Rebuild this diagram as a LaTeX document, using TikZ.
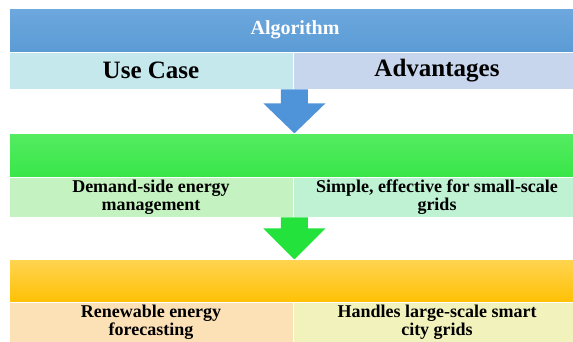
\documentclass[tikz,border=0pt]{standalone}
\usepackage{fontspec}
\setmainfont{Liberation Serif}
\definecolor{hdrtop}{HTML}{6DA8DE}
\definecolor{hdrbot}{HTML}{5B9BD5}
\definecolor{usecase}{HTML}{C4E8EC}
\definecolor{advant}{HTML}{C7D6EC}
\definecolor{arrblue}{HTML}{4F93D8}
\definecolor{grntop}{HTML}{55EC62}
\definecolor{grnbot}{HTML}{38E648}
\definecolor{demand}{HTML}{C4F3C1}
\definecolor{simple}{HTML}{BFF1D3}
\definecolor{arrgreen}{HTML}{22E23B}
\definecolor{orgtop}{HTML}{FFD451}
\definecolor{orgbot}{HTML}{FFC105}
\definecolor{renew}{HTML}{FCE0B6}
\definecolor{handles}{HTML}{F2F2BC}
\begin{document}
\begin{tikzpicture}[x=1pt,y=-1pt,
  band/.style={minimum width=572pt,inner sep=0pt,draw=white,line width=0.6pt},
  cell/.style={minimum width=284pt,inner sep=0pt,draw=white,line width=0.8pt,align=center},
  bigtext/.style={font=\fontsize{25}{27}\selectfont\bfseries},
  smalltext/.style={font=\fontsize{18}{17.5}\selectfont\bfseries}]
  \clip (0,0) rectangle (573,341);
  \node[band,minimum height=44pt,top color=hdrtop,bottom color=hdrbot,text=white,
    font=\fontsize{20}{22}\selectfont\bfseries] (alg) at (295,30) {Algorithm};
  \node[cell,bigtext,minimum height=37pt,fill=usecase] (uc) at (151,70.5) {Use Case};
  \node[cell,bigtext,minimum height=37pt,minimum width=288pt,fill=advant] (adv) at (437,70.5) {Advantages};
  \path (uc.south east) ++(1,0) coordinate (a1);
  \fill[arrblue] (a1) ++(-13.5,0) -- ++(27,0) -- ++(0,14) -- ++(17.5,0) -- ++(-31,30) -- ++(-31,-30) -- ++(17.5,0) -- cycle;
  \node[band,minimum height=44pt,top color=grntop,bottom color=grnbot] (grn) at (295,155) {};
  \node[cell,smalltext,minimum height=40pt,fill=demand] (dem) at (151,197) {Demand-side energy\\management};
  \node[cell,smalltext,minimum height=40pt,minimum width=288pt,fill=simple] (sim) at (437,197) {Simple, effective for small-scale\\grids};
  \path (dem.south east) ++(1,0) coordinate (a2);
  \fill[arrgreen] (a2) ++(-13.5,0) -- ++(27,0) -- ++(0,11) -- ++(17.5,0) -- ++(-31,31) -- ++(-31,-31) -- ++(17.5,0) -- cycle;
  \node[band,minimum height=43pt,top color=orgtop,bottom color=orgbot] (org) at (295,280.5) {};
  \node[cell,smalltext,minimum height=40pt,fill=renew] (ren) at (151,322) {Renewable energy\\forecasting};
  \node[cell,smalltext,minimum height=40pt,minimum width=288pt,fill=handles] (han) at (437,322) {Handles large-scale smart\\city grids};
\end{tikzpicture}
\end{document}
